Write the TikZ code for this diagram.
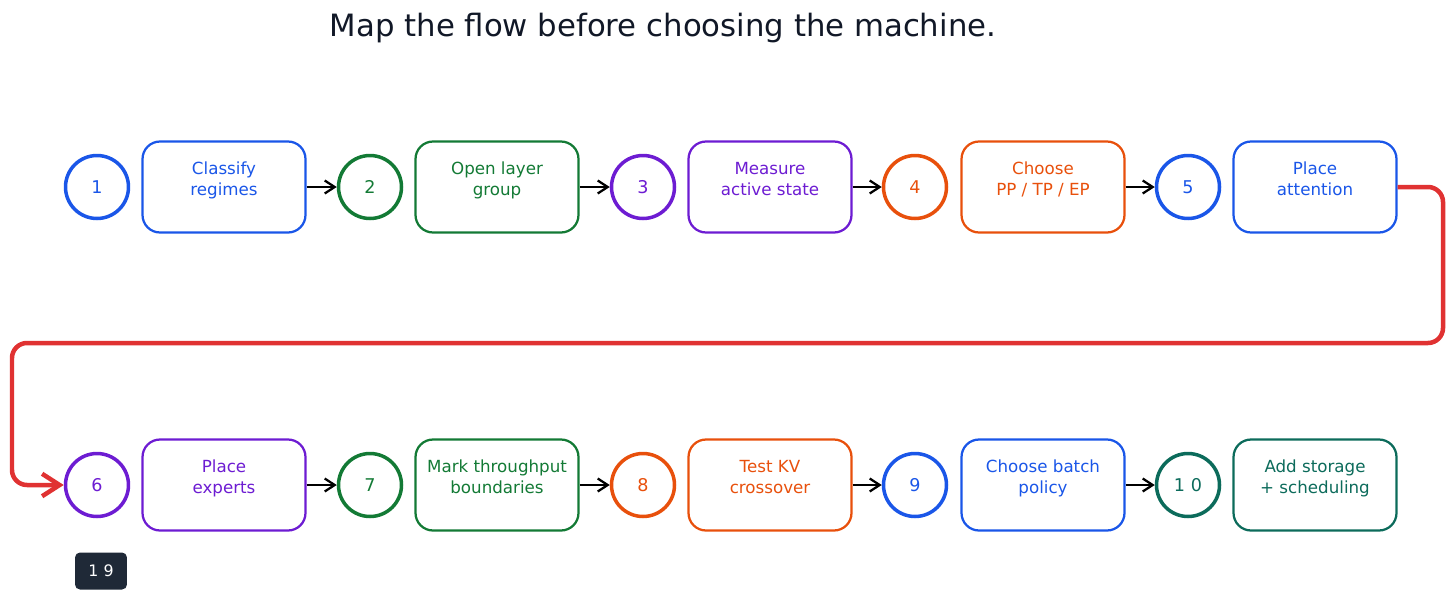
\documentclass[tikz,border=0pt]{standalone}
\usepackage{fontspec}
\setmainfont{DejaVu Sans}
\usetikzlibrary{arrows.meta}
\definecolor{cblue}{HTML}{1A56E8}
\definecolor{cgreen}{HTML}{137A35}
\definecolor{cpurple}{HTML}{6D1CD2}
\definecolor{corange}{HTML}{E8500C}
\definecolor{cteal}{HTML}{0C6B5B}
\definecolor{cred}{HTML}{E03232}
\definecolor{cbadge}{HTML}{1F2937}
\definecolor{ctitle}{HTML}{111827}
\begin{document}
\begin{tikzpicture}[x=0.02cm,y=-0.02cm,->,>={Straight Barb[length=2mm,width=2.6mm]},line width=0.45mm]
	\def \rowoneht{187}
	\def \rowtwoht{485}
	\tikzstyle{s-node}=[circle,line width=0.7mm,minimum size=1.26cm,inner sep=0pt,font=\fontsize{10}{12}\selectfont]
	\tikzstyle{b-node}=[rectangle,rounded corners=3.5mm,line width=0.45mm,minimum width=3.26cm,minimum height=1.82cm,align=center,font=\fontsize{9.5}{12}\selectfont]
	\useasboundingbox (0,0) rectangle (1456,602);
	% title
	\node[font=\fontsize{17.5}{20}\selectfont,text=ctitle] (title) at (663,28) {Map the flow before choosing the machine.};
	
	% first row
	\node[s-node,draw=cblue,text=cblue] 	(s1)	at (97,\rowoneht)	{1};
	\node[b-node,draw=cblue,text=cblue] 	(b1)	at (224,\rowoneht)	{Classify\\regimes\\[-3pt]};
	\node[s-node,draw=cgreen,text=cgreen] 	(s2)	at (370,\rowoneht)	{2};
	\node[b-node,draw=cgreen,text=cgreen] 	(b2)	at (497,\rowoneht)	{Open layer\\group\\[-3pt]};
	\node[s-node,draw=cpurple,text=cpurple] (s3)	at (643,\rowoneht)	{3};
	\node[b-node,draw=cpurple,text=cpurple] (b3)	at (770,\rowoneht)	{Measure\\active state\\[-3pt]};
	\node[s-node,draw=corange,text=corange] (s4)	at (915,\rowoneht)	{4};
	\node[b-node,draw=corange,text=corange] (b4)	at (1043,\rowoneht)	{Choose\\PP / TP / EP\\[-3pt]};
	\node[s-node,draw=cblue,text=cblue] 	(s5)	at (1188,\rowoneht)	{5};
	\node[b-node,draw=cblue,text=cblue] 	(b5)	at (1315,\rowoneht)	{Place\\attention\\[-3pt]};
	
	% second row
	\node[s-node,draw=cpurple,text=cpurple] (s6)	at (97,\rowtwoht)	{6};
	\node[b-node,draw=cpurple,text=cpurple] (b6)	at (224,\rowtwoht)	{Place\\experts\\[-3pt]};
	\node[s-node,draw=cgreen,text=cgreen] 	(s7)	at (370,\rowtwoht)	{7};
	\node[b-node,draw=cgreen,text=cgreen] 	(b7)	at (497,\rowtwoht)	{Mark throughput\\boundaries\\[-3pt]};
	\node[s-node,draw=corange,text=corange] (s8)	at (643,\rowtwoht)	{8};
	\node[b-node,draw=corange,text=corange] (b8)	at (770,\rowtwoht)	{Test KV\\crossover\\[-3pt]};
	\node[s-node,draw=cblue,text=cblue] 	(s9)	at (915,\rowtwoht)	{9};
	\node[b-node,draw=cblue,text=cblue] 	(b9)	at (1043,\rowtwoht)	{Choose batch\\policy\\[-3pt]};
	\node[s-node,draw=cteal,text=cteal] 	(s10)	at (1188,\rowtwoht)	{1\,\,0};
	\node[b-node,draw=cteal,text=cteal] 	(b10)	at (1315,\rowtwoht)	{Add storage\\+ scheduling\\[-3pt]};
	
	% badge
	\node[rectangle,rounded corners=1mm,fill=cbadge,text=white,minimum width=1.04cm,minimum height=0.74cm,font=\fontsize{9}{10}\selectfont] (badge) at (101,571) {1\,\,9};
	
	\path 
		(b1)	edge	(s2)
		(b2)	edge	(s3)
		(b3)	edge	(s4)
		(b4)	edge	(s5)
		(b6)	edge	(s7)
		(b7)	edge	(s8)
		(b8)	edge	(s9)
		(b9)	edge	(s10);
	
	% wrap-around
	\draw[cred,line width=0.9mm,rounded corners=3mm,-{Straight Barb[length=3.5mm,width=4.5mm]}]
		(b5.east) -- (1443,\rowoneht) -- (1443,343) -- (12,343) -- (12,\rowtwoht) -- (s6.west);
\end{tikzpicture}
\end{document}
